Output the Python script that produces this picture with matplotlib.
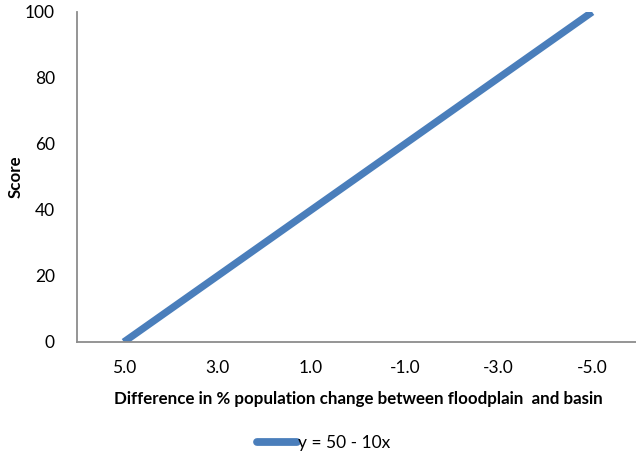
import matplotlib
matplotlib.use("Agg")
import matplotlib.pyplot as plt

# score as a function of the difference in % population change
categories = ["5.0", "3.0", "1.0", "-1.0", "-3.0", "-5.0"]
scores = [0, 20, 40, 60, 80, 100]
series_name = "y = 50 - 10x"

plt.rcParams['font.family'] = ['Lato', 'DejaVu Sans']

fig = plt.figure(figsize=(6.36, 4.57), dpi=100)
W, H = 636, 457
ax = fig.add_axes([77 / W, 1 - 342 / H, 562 / W, 330 / H])

xs = list(range(len(categories)))
ax.plot(xs, scores, color="#4a7ebb", linewidth=5.2, solid_capstyle="butt", label=series_name)

ax.set_xlim(-0.5, len(categories) - 0.5)
ax.set_ylim(0, 100)
ax.set_yticks([0, 20, 40, 60, 80, 100])
ax.set_xticks(xs)
ax.set_xticklabels(categories)
ax.tick_params(axis="both", length=0, labelsize=12.5, colors="black")
ax.tick_params(axis="x", pad=13)
ax.tick_params(axis="y", pad=16)

for side in ["top", "right"]:
    ax.spines[side].set_visible(False)
for side in ["left", "bottom"]:
    ax.spines[side].set_color("#8c8c8c")
    ax.spines[side].set_linewidth(1.3)

ax.set_xlabel("Difference in % population change between floodplain  and basin",
              fontsize=12.2, fontweight="bold", labelpad=11)
ax.set_ylabel("Score", fontsize=12.2, fontweight="bold")
ax.yaxis.set_label_coords(-(77 - 24) / 562, 0.5)

leg = fig.legend(loc="center", bbox_to_anchor=(324 / W, 1 - 443 / H), frameon=False,
                 fontsize=12.5, handlelength=2.3, handletextpad=0.05)
for line in leg.get_lines():
    line.set_solid_capstyle("round")
    line.set_linewidth(5.6)

fig.savefig("out.png", dpi=100)
